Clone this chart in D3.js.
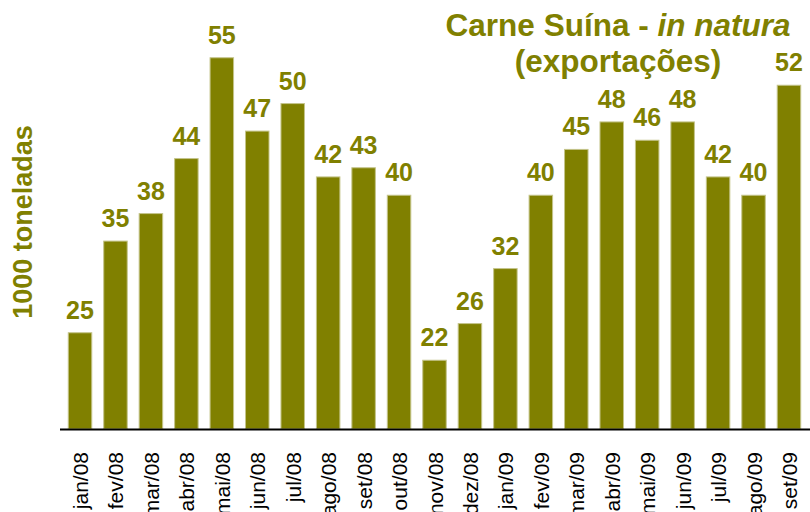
<!DOCTYPE html>
<html>
<head>
  <style>
    body { margin: 0; background: #fff; }
    svg { display: block; font-family: "Liberation Sans", Arial, sans-serif; }
  </style>
</head>
<body>
  <div id="chart"></div>
<script src="https://d3js.org/d3.v7.min.js"></script>
<script>
const months = ['jan/08', 'fev/08', 'mar/08', 'abr/08', 'mai/08', 'jun/08', 'jul/08',
  'ago/08', 'set/08', 'out/08', 'nov/08', 'dez/08', 'jan/09', 'fev/09', 'mar/09',
  'abr/09', 'mai/09', 'jun/09', 'jul/09', 'ago/09', 'set/09'];
const volumes = [25, 35, 38, 44, 55, 47, 50, 42, 43, 40, 22, 26, 32, 40, 45, 48, 46, 48, 42, 40, 52];

const olive = '#808000';
const width = 810, height = 512;
const baseY = 429;

const svg = d3.select('#chart').append('svg')
  .attr('width', width)
  .attr('height', height);

const x = d3.scaleBand()
  .domain(months)
  .range([62.3, 806.7])
  .paddingInner(0.337)
  .paddingOuter(0.1685);

// value axis does not start at zero in the original
const y = d3.scaleLinear()
  .domain([14.5, 61.3])
  .range([baseY, 0]);

svg.selectAll('rect.bar')
  .data(volumes)
  .enter()
  .append('rect')
  .attr('class', 'bar')
  .attr('x', (d, i) => x(months[i]))
  .attr('y', d => y(d))
  .attr('width', x.bandwidth())
  .attr('height', d => baseY - y(d))
  .attr('fill', olive)
  .attr('stroke', '#c4c48a')
  .attr('stroke-width', 1);

svg.selectAll('text.val')
  .data(volumes)
  .enter()
  .append('text')
  .attr('class', 'val')
  .attr('x', (d, i) => x(months[i]) + x.bandwidth() / 2)
  .attr('y', d => y(d) - 14)
  .attr('text-anchor', 'middle')
  .attr('font-size', 25)
  .attr('font-weight', 'bold')
  .attr('fill', olive)
  .text(d => d);

// baseline
svg.append('line')
  .attr('x1', 60).attr('x2', width)
  .attr('y1', baseY + 0.5).attr('y2', baseY + 0.5)
  .attr('stroke', '#000')
  .attr('stroke-width', 2);

// month labels, rotated (cut off at the bottom like the original)
svg.selectAll('text.month')
  .data(months)
  .enter()
  .append('text')
  .attr('class', 'month')
  .attr('transform', d => `translate(${x(d) + x.bandwidth() / 2 + 8},452) rotate(-90)`)
  .attr('text-anchor', 'end')
  .attr('font-size', 21)
  .attr('fill', '#000')
  .text(d => d);

// y label
svg.append('text')
  .attr('transform', 'translate(32,222) rotate(-90)')
  .attr('text-anchor', 'middle')
  .attr('font-size', 27)
  .attr('font-weight', 'bold')
  .attr('fill', olive)
  .text('1000 toneladas');

// title
const title = svg.append('text')
  .attr('text-anchor', 'middle')
  .attr('font-size', 31.5)
  .attr('font-weight', 'bold')
  .attr('fill', olive);
const line1 = title.append('tspan').attr('x', 618).attr('y', 36);
line1.append('tspan').text('Carne Suína - ');
line1.append('tspan').attr('font-style', 'italic').text('in natura');
title.append('tspan').attr('x', 618).attr('y', 72).text('(exportações)');
</script>
</body>
</html>
